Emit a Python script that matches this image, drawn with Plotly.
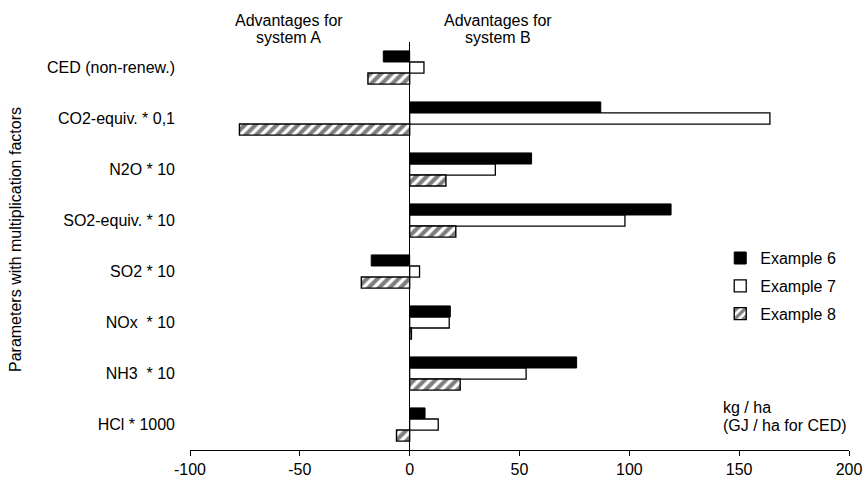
import plotly.graph_objects as go

categories = ["CED (non-renew.)", "CO2-equiv. * 0,1", "N2O * 10", "SO2-equiv. * 10",
              "SO2 * 10", "NOx  * 10", "NH3  * 10", "HCl * 1000"]
example6 = [-12, 87, 55.5, 119, -17.5, 18.5, 76, 7]
example7 = [6.5, 164, 39, 98, 4.5, 18, 53, 13]
example8 = [-19, -77.5, 16.5, 21, -22, 0.8, 23, -6]
x_tickvals = [-100, -50, 0, 50, 100, 150, 200]
x_ticktext = ["-100", "-50", "0", "50", "100", "150", "200"]

FONT = "Arial, Liberation Sans, sans-serif"

fig = go.Figure()
fig.add_trace(go.Bar(name="Example 6", y=categories, x=example6, orientation="h",
                     marker=dict(color="black", line=dict(color="black", width=1)),
                     legendgroup="a"))
fig.add_trace(go.Bar(name="Example 7", y=categories, x=example7, orientation="h",
                     marker=dict(color="white", line=dict(color="black", width=1.3)),
                     legendgroup="b"))
fig.add_trace(go.Bar(name="Example 8", y=categories, x=example8, orientation="h",
                     marker=dict(color="white", line=dict(color="black", width=1.4),
                                 pattern=dict(shape="/", fgcolor="black", bgcolor="white",
                                              size=7.5, solidity=0.55)),
                     legendgroup="c"))

fig.update_layout(
    width=868, height=484,
    margin=dict(l=190, r=19, t=42, b=34, autoexpand=False),
    paper_bgcolor="white", plot_bgcolor="white",
    font=dict(family=FONT, size=16, color="black"),
    barmode="group", bargap=0.35, bargroupgap=0,
    showlegend=True,
    legend=dict(x=0.8046, y=0.512, xanchor="left", yanchor="top",
                bgcolor="rgba(0,0,0,0)", tracegroupgap=4,
                font=dict(size=16), itemwidth=30),
    xaxis=dict(range=[-100, 200], tickvals=x_tickvals, ticktext=x_ticktext,
               showline=True, linecolor="black", linewidth=1.2, automargin=False,
               ticks="outside", ticklen=5, tickcolor="black",
               showgrid=False, zeroline=True, zerolinecolor="black", zerolinewidth=1.2,
               tickfont=dict(size=16)),
    yaxis=dict(type="category", categoryorder="array", categoryarray=categories,
               autorange="reversed", showline=False, ticks="", showgrid=False,
               automargin=False, ticklabelstandoff=14, tickfont=dict(size=16)),
    yaxis2=dict(type="category", categoryorder="array", categoryarray=categories,
                overlaying="y", matches="y", anchor="free", position=1/3, side="left",
                showline=False, ticks="outside", tickson="boundaries", ticklen=4,
                automargin=False,
                tickcolor="black", showticklabels=False, showgrid=False),
)

ann = [
    dict(text="Advantages for", x=0.150, y=1.0515),
    dict(text="system A", x=0.150, y=1.012),
    dict(text="Advantages for", x=0.467, y=1.0515),
    dict(text="system B", x=0.467, y=1.012),
]
for a in ann:
    fig.add_annotation(xref="paper", yref="paper", showarrow=False, xanchor="center",
                       yanchor="middle", font=dict(size=16), **a)

fig.add_annotation(text="kg / ha", xref="paper", yref="paper", x=(721 - 190) / 659,
                   y=(450 - 407) / 408, xanchor="left", yanchor="middle",
                   showarrow=False, font=dict(size=16))
fig.add_annotation(text="(GJ / ha for CED)", xref="paper", yref="paper", x=(721 - 190) / 659,
                   y=(450 - 425) / 408, xanchor="left", yanchor="middle",
                   showarrow=False, font=dict(size=16))
fig.add_annotation(text="Parameters with multiplication factors", xref="paper", yref="paper",
                   x=(15 - 190) / 659, y=(450 - 240) / 408, textangle=-90,
                   xanchor="center", yanchor="middle", showarrow=False, font=dict(size=16))

fig.write_html("out.html", config={"displayModeBar": False},
               post_script="document.body.style.margin='0';document.body.style.overflow='hidden';")
